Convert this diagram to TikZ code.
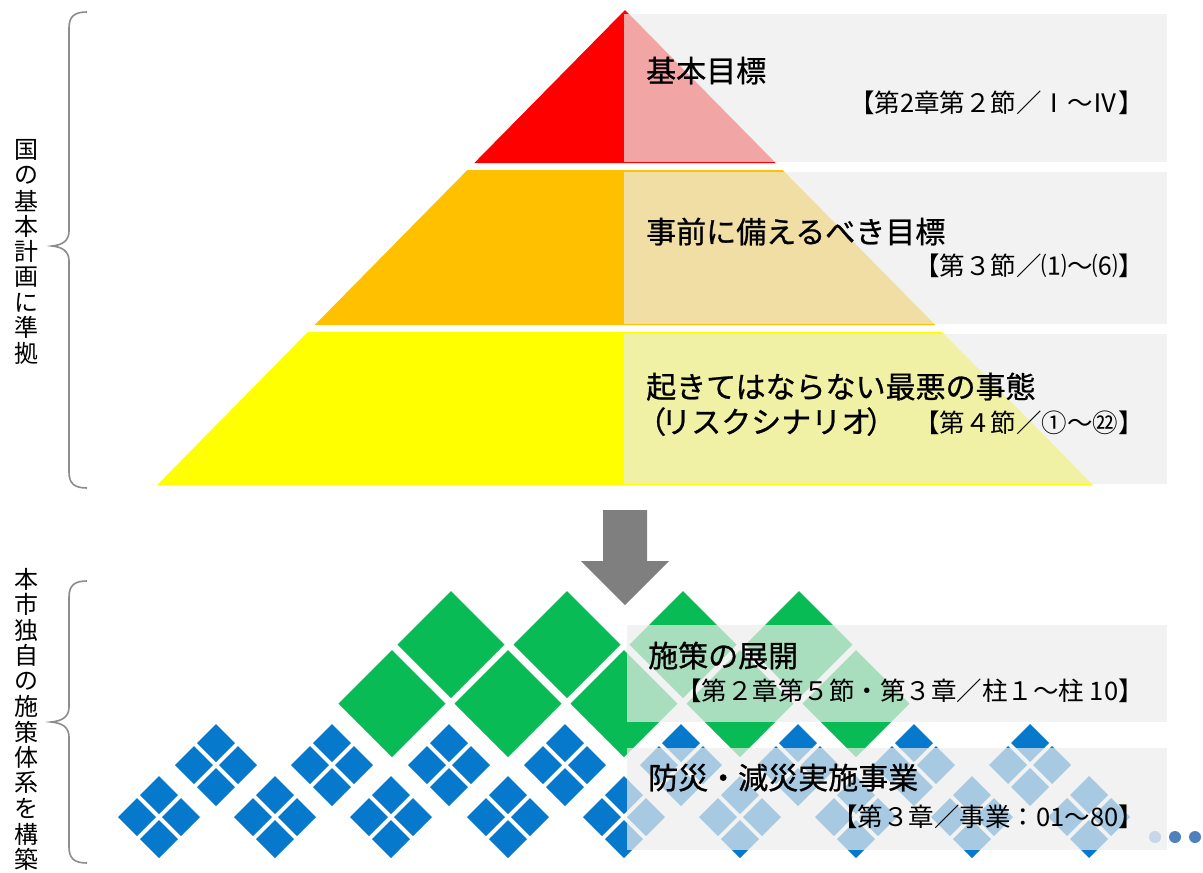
\documentclass[tikz,border=0pt]{standalone}
\usepackage{fontspec}
\newfontfamily\jp{Noto Sans CJK JP}
\newfontfamily\jph[FakeBold=0.8]{Noto Sans CJK JP}
\definecolor{cred}{HTML}{FF0000}
\definecolor{corange}{HTML}{FFC000}
\definecolor{cyellow}{HTML}{FFFF00}
\definecolor{cpanel}{HTML}{ECECEC}
\definecolor{cgreen}{HTML}{08BB55}
\definecolor{cblue}{HTML}{0679CC}
\definecolor{carrow}{HTML}{7F7F7F}
\definecolor{cbrace}{HTML}{8C8C8C}
\definecolor{cdotl}{HTML}{C8D6EA}
\definecolor{cdot}{HTML}{4F81BD}
\tikzset{
  head/.style={font=\jph\fontsize{30}{30}\selectfont, anchor=base west, inner sep=0pt},
  sub/.style={font=\jp\fontsize{25.5}{25.5}\selectfont, anchor=base east, inner sep=0pt},
  panel/.style={fill=cpanel, fill opacity=0.7},
  vtext/.style={font=\jp\fontsize{24}{24}\selectfont, inner sep=0pt},
  brace/.style={draw=cbrace, line width=1.6pt},
}
\begin{document}
\begin{tikzpicture}[x=1pt,y=-1pt]
\useasboundingbox (0,0) rectangle (1203,873);
% ---------- pyramid ----------
\fill[cred] (625,10) -- (775.7,163) -- (474.3,163) -- cycle;
\fill[corange] (467.4,170) -- (782.6,170) -- (935.3,325) -- (314.7,325) -- cycle;
\fill[cyellow] (307.8,332) -- (942.2,332) -- (1092.9,485) -- (157.1,485) -- cycle;
% panels
\fill[panel] (624,14) rectangle (1167,162);
\fill[panel] (624,171.5) rectangle (1167,323.5);
\fill[panel] (624,333.5) rectangle (1167,483.5);
% texts
\node[head] (t1) at (646,82) {基本目標};
\node[sub] (s1) at (1144,112) {【第2章第２節／Ⅰ～Ⅳ】};
\node[head] (t2) at (646,243) {事前に備えるべき目標};
\node[sub] (s2) at (1144,275) {【第３節／⑴～⑹】};
\node[head] (t3) at (646,398) {起きてはならない最悪の事態};
\node[head] (t3b) at (636,433) {（\kern-5pt リスクシナリオ\kern-5pt）};
\node[sub] (s3) at (1144,432) {【第４節／①～㉒】};
% ---------- braces and vertical texts ----------
\draw[brace] (87,12) .. controls (75,12) and (69,16) .. (69,28) -- (69,231)
  .. controls (69,241) and (62,245) .. (52,246)
  .. controls (62,247) and (69,251) .. (69,261) -- (69,472)
  .. controls (69,484) and (75,488) .. (87,488);
\draw[brace] (87,581) .. controls (75,581) and (69,585) .. (69,597) -- (69,707)
  .. controls (69,717) and (62,721) .. (51,722)
  .. controls (62,723) and (69,727) .. (69,737) -- (69,847)
  .. controls (69,859) and (75,863) .. (87,863);
\foreach \c [count=\i] in {国,の,基,本,計,画,に,準,拠}
  \node[vtext] (va\i) at (26,{150+(\i-1)*25.4}) {\c};
\foreach \c [count=\i] in {本,市,独,自,の,施,策,体,系,を,構,築}
  \node[vtext] (vb\i) at (26,{579+(\i-1)*25.5}) {\c};
% ---------- arrow ----------
\fill[carrow] (603,510) -- (647,510) -- (647,561) -- (669,561) -- (625,605) -- (581,561) -- (603,561) -- cycle;
% ---------- green diamonds ----------
\foreach \x in {451,567,683,799}
  \fill[cgreen] (\x,591) -- ++(53.5,53.5) -- ++(-53.5,53.5) -- ++(-53.5,-53.5) -- cycle;
\foreach \x in {392,508,624,740,856}
  \fill[cgreen] (\x,650) -- ++(53.5,53.5) -- ++(-53.5,53.5) -- ++(-53.5,-53.5) -- cycle;
% ---------- blue clusters ----------
\foreach \cx/\cy in {216/765,332/765,449/765,565/765,681/765,798/765,914/765,1030/765,
                     159/817,275/817,391/817,508/817,624/817,740/817,856/817,972/817,1089/817}
  \foreach \dx/\dy in {22/0,-22/0,0/22,0/-22}
    \fill[cblue] ({\cx+(\dx)},{\cy+(\dy)-19}) -- ++(19,19) -- ++(-19,19) -- ++(-19,-19) -- cycle;
% panels lower
\fill[panel] (627,625) rectangle (1167,722);
\fill[panel] (627,748) rectangle (1167,850);
\node[head] (t4) at (648,667) {施策の展開};
\node[sub] (s4) at (1144,700) {【第２章第５節・第３章／柱１～柱 10】};
\node[head] (t5) at (648,789) {防災・減災実施事業};
\node[sub] (s5) at (1144,826) {【第３章／事業：01～80】};
% dots
\fill[cdotl] (1155,837) circle (6);
\fill[cdot] (1175,837) circle (6);
\fill[cdot] (1195,837) circle (6);
\end{tikzpicture}
\end{document}
